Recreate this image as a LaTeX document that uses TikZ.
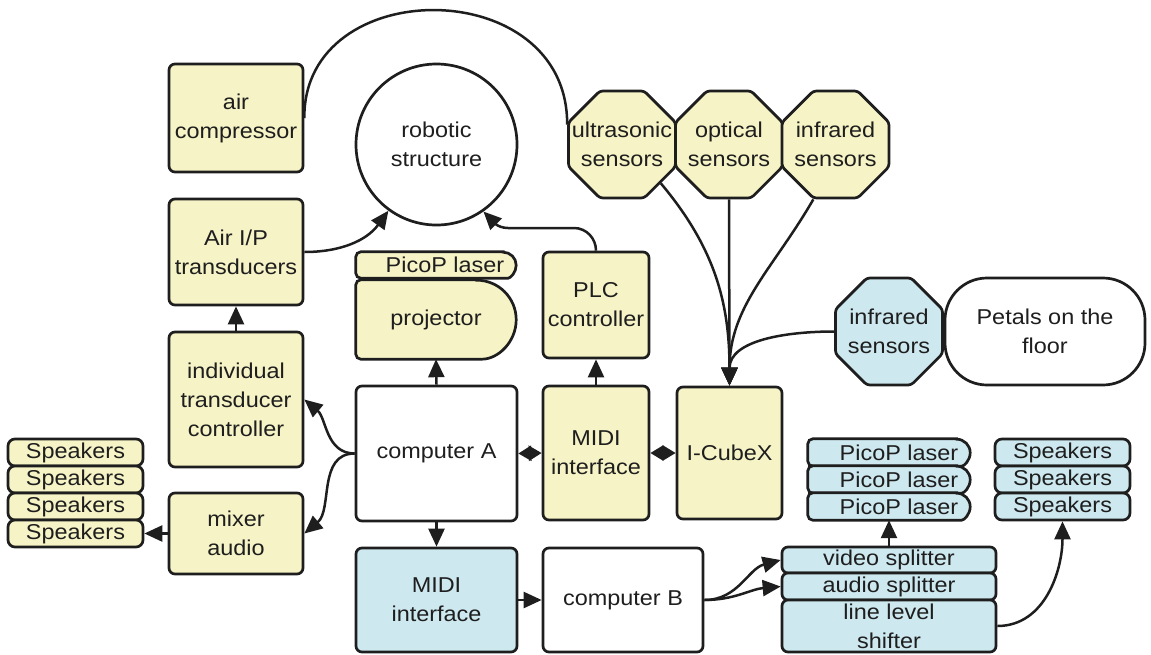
\documentclass[tikz,border=0pt]{standalone}
\usepackage{fontspec}
\setmainfont{Liberation Sans}[FakeStretch=1.09]
\usetikzlibrary{arrows.meta,shapes.geometric,backgrounds}
\definecolor{yel}{HTML}{F6F3C6}
\definecolor{blu}{HTML}{CDE8EF}
\definecolor{ink}{HTML}{1E1E1E}

% outline of a box whose right end is a half circle of radius #3
\newcommand\capoutline[3]{%
  \path[draw=ink, line width=2.7pt, fill=#2]
    ([xshift=-#3]#1.north east) [rounded corners=5pt] -- (#1.north west) -- (#1.south west)
    -- ([xshift=-#3]#1.south east) [sharp corners] arc[start angle=-90, end angle=90, radius=#3] -- cycle;}

\begin{document}
\begin{tikzpicture}[x=1pt, y=1pt,
  every node/.style={font=\fontsize{21.5}{29}\selectfont, text=ink, align=center, inner sep=0pt},
  sz/.style 2 args={minimum width=#1pt, minimum height=#2pt},
  bx/.style={rectangle, draw=ink, line width=2.7pt, rounded corners=6pt},
  yb/.style={bx, fill=yel},
  bb/.style={bx, fill=blu},
  wb/.style={bx, fill=white},
  spk/.style={sz={135}{27}, rounded corners=7pt},
  oct/.style={regular polygon, regular polygon sides=8, minimum size=115.8pt,
              draw=ink, line width=2.7pt, rounded corners=3pt},
  ln/.style={draw=ink, line width=2.5pt},
  arr/.style={ln, -{Triangle[length=18pt, width=16pt]}},
  dbl/.style={ln, {Triangle[length=13pt, width=15pt]}-{Triangle[length=13pt, width=15pt]}},
]
\useasboundingbox (0,0) rectangle (1151,-654);

% left column
\node[yb, sz={134}{108}] (air)   at (236,-118)   {air\\compressor};
\node[yb, sz={134}{106}] (airip) at (236,-252)   {Air I/P\\transducers};
\node[yb, sz={134}{135}] (itc)   at (236,-399.5) {individual\\transducer\\controller};
\node[yb, sz={134}{81}]  (mixer) at (236,-533.5) {mixer\\audio};
\foreach \i/\y in {1/452.5, 2/479.5, 3/506.5, 4/533.5}
  \node[yb, spk] (spkL\i) at (75.5,-\y) {Speakers};

% centre column
\node[circle, draw=ink, line width=2.7pt, fill=white, minimum size=161pt] (robot) at (436.5,-144.5) {robotic\\structure};
\node[sz={160}{26}] (laserA) at (436,-265)   {\hspace*{18pt}PicoP laser};
\node[sz={160}{79}] (proj)   at (436,-319.5) {projector};
\node[wb, sz={161}{135}] (compA) at (436.5,-453.5) {computer A};
\node[bb, sz={161}{104}] (midiB) at (436.5,-600)   {MIDI\\interface};

\node[yb, sz={106}{106}] (plc)   at (596,-305) {PLC\\controller};
\node[yb, sz={106}{134}] (midiY) at (596,-453) {MIDI\\interface};
\node[wb, sz={160}{104}] (compB) at (623,-600) {computer B};
\node[yb, sz={105}{132}] (icube) at (729.5,-453) {I-CubeX};

% sensors
\node[oct, fill=yel, label={[align=center]center:{ultrasonic\\sensors}}] (ultra)  at (622,-144.5) {};
\node[oct, fill=yel, label={[align=center]center:{optical\\sensors}}]    (opt)    at (729,-144.5) {};
\node[oct, fill=yel, label={[align=center]center:{infrared\\sensors}}]   (infraY) at (835.5,-144.5) {};
\node[oct, fill=blu, label={[align=center]center:{infrared\\sensors}}]   (infraB) at (889,-331.5) {};
\node[wb, rounded corners=42pt, sz={200}{107}] (petals) at (1045,-331.5) {Petals on the\\floor};

% right-hand outputs
\foreach \i/\y in {1/452.5, 2/479.5, 3/506.5} {
  \node[sz={162}{27}] (pp\i) at (889,-\y) {\hspace*{20pt}PicoP laser};
  \node[bb, spk] (spkR\i) at (1062.5,-\y) {Speakers};
}
\node[bb, sz={214}{26}] (vid) at (889,-560)   {video splitter};
\node[bb, sz={214}{27}] (aud) at (889,-586.5) {audio splitter};
\node[bb, sz={214}{52}] (lls) at (889,-626)   {line level\\shifter};

\begin{scope}[on background layer]
  \capoutline{laserA}{yel}{13pt}
  \capoutline{proj}{yel}{39.5pt}
  \foreach \i in {1,2,3} {\capoutline{pp\i}{blu}{13.5pt}}
\end{scope}

% connectors
\draw[ln] (air.east) .. controls (303,27) and (568,27) .. ([yshift=20pt]ultra.west);
\draw[arr] (airip.east) to[out=0, in=234] (robot.234);
\draw[arr] (itc.north) -- (airip.south);
\draw[arr] (compA.west) to[out=180, in=-40] (itc.east);
\draw[arr] (compA.west) to[out=180, in=40] (mixer.east);
\draw[arr] (mixer.west) -- (spkL4.east);
\draw[arr] (compA.north) -- (proj.south);
\draw[arr] (compA.south) -- (midiB.north);
\draw[arr] (midiB.east) -- (compB.west);
\draw[dbl] (compA.east) -- (midiY.west);
\draw[dbl] (midiY.east) -- (icube.west);
\draw[arr] (midiY.north) -- (plc.south);
\coordinate (plcA) at (574,-228);
\coordinate (plcB) at (508,-228);
\draw[arr] (plc.north) to[out=90, in=0] (plcA) -- (plcB) to[out=180, in=-45] (robot.-55);
\draw[arr] (ultra.-45) to[out=-50, in=90] (icube.north);
\draw[arr] (opt.south) -- (icube.north);
\draw[arr] (infraY.-112) to[out=-120, in=90] (icube.north);
\draw[arr] (infraB.west) to[out=180, in=90] (icube.north);
\draw[arr] (compB.east) to[out=0, in=195] (vid.west);
\draw[arr] (compB.east) to[out=0, in=185] (aud.west);
\draw[arr] (vid.north) -- (pp3.south);
\draw[arr] (lls.east) to[out=0, in=-90] (spkR3.south);
\end{tikzpicture}
\end{document}
